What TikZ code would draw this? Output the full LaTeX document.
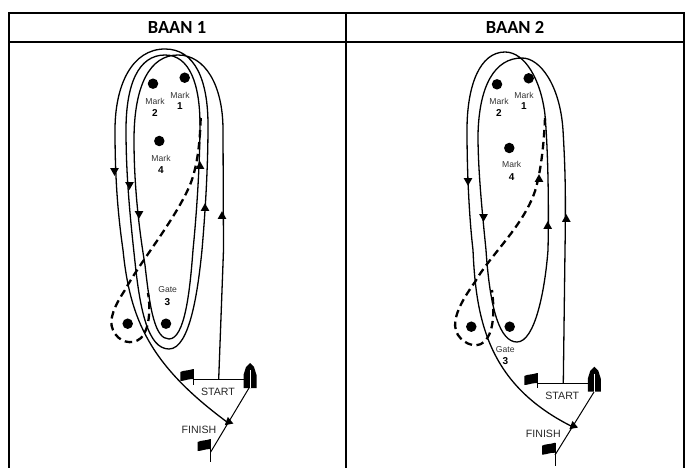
\documentclass[tikz,border=0pt]{standalone}
\usepackage{fontspec}
\setmainfont{Liberation Sans}
\newfontfamily\headfont{Carlito}
\begin{document}
\begin{tikzpicture}[x=1pt,y=-1pt,
  grid/.style={line width=1.5pt,black},
  course/.style={line width=1.3pt,black},
  dashcourse/.style={line width=2.3pt,black,dash pattern=on 7.5pt off 4.5pt},
  markdot/.style={circle,fill=black,inner sep=0pt,minimum size=10.5pt},
  marklab/.style={inner sep=0pt,font=\fontsize{8.6}{9}\selectfont,text=black!80},
  marknum/.style={inner sep=0pt,font=\fontsize{10}{10}\selectfont\bfseries},
  linelab/.style={inner sep=0pt,font=\fontsize{10.6}{11}\selectfont,text=black!85},
  headlab/.style={inner sep=0pt,font=\headfont\fontsize{18.5}{18}\selectfont\bfseries},
  thin line/.style={line width=1pt,black},
  uptip/.pic={\fill (-4.3,3.8) -- (0,-3.8) -- (4.3,3.8) -- cycle;},
  downtip/.pic={\fill (-4.3,-3.8) -- (0,3.8) -- (4.3,-3.8) -- cycle;},
  flag/.pic={\fill (-13,3) .. controls (-9,1) and (-6,2) .. (0,0) -- (0,10) .. controls (-6,10) and (-9,12) .. (-13,12) -- cycle;},
  boat/.pic={\fill (0,0) -- (-4,4) -- (-6.5,12) -- (-6.5,25) -- (6.5,25) -- (6.5,12) -- (4,4) -- cycle;
             \draw[white,line width=0.7pt] (0,7) -- (0,25);}
]
\useasboundingbox (0,0) rectangle (691,468);
% table
\draw[grid] (9,468) -- (9,13) -- (684,13) -- (684,468);
\draw[grid] (9,42) -- (684,42);
\draw[grid] (346,13) -- (346,468);
\node[headlab] (h1) at (177,27.5) {BAAN 1};
\node[headlab] (h2) at (515,27.5) {BAAN 2};

% ---------- BAAN 1 ----------
\node[markdot] (a1) at (184.7,77.7) {};
\node[markdot] (a2) at (153,83.7) {};
\node[markdot] (a4) at (159.3,141) {};
\node[markdot] (ag) at (166,323.7) {};
\node[markdot] (ap) at (127.7,323.7) {};
\node[marklab] (a1l) at (180,95) {Mark};
\node[marknum] (a1n) at (180,106) {1};
\node[marklab] (a2l) at (155,101) {Mark};
\node[marknum] (a2n) at (155,112.7) {2};
\node[marklab] (a4l) at (161,158) {Mark};
\node[marknum] (a4n) at (161,170) {4};
\node[marklab] (agl) at (167.7,290) {Gate};
\node[marknum] (agn) at (167.5,301.7) {3};
\draw[course] (218.7,379) -- (223.5,250) -- (223,130)
  .. controls (223,85) and (205,55) .. (178,55)
  .. controls (150,55) and (134,85) .. (134,140)
  .. controls (134,190) and (140,235) .. (145,265)
  .. controls (150,310) and (155,339) .. (169,339)
  .. controls (185,339) and (190,290) .. (193,250)
  .. controls (197,210) and (200,160) .. (200,125)
  .. controls (200,85) and (190,55) .. (165,55)
  .. controls (138,55) and (126,85) .. (126,130)
  .. controls (126,180) and (131,225) .. (135,262)
  .. controls (140,310) and (148,349) .. (169,349)
  .. controls (190,349) and (198,290) .. (202,250)
  .. controls (205,215) and (208,170) .. (208,125)
  .. controls (208,80) and (195,49) .. (165,49)
  .. controls (132,49) and (115,85) .. (115,130)
  .. controls (115,180) and (118,215) .. (123,250)
  .. controls (130,320) and (150,365) .. (227,422);
\draw[dashcourse] (200.7,118) .. controls (200,140) and (198,165) .. (190,185)
  .. controls (175,220) and (140,262) .. (125,290)
  .. controls (115,305) and (108,320) .. (113,330)
  .. controls (118,342) and (132,346) .. (141,338)
  .. controls (149,330) and (151,310) .. (148,293);
\pic at (114.5,172) {downtip};
\pic at (129.5,186) {downtip};
\pic at (139,215) {downtip};
\pic at (200,165) {uptip};
\pic at (205,207) {uptip};
\pic at (222,215) {uptip};
\pic[rotate=-50] at (227.7,422.7) {downtip};
% start / finish
\pic at (193.3,369) {flag};
\draw[thin line] (193.3,369) -- (193.3,385);
\pic at (250,363) {boat};
\coordinate (as) at (193.3,379.3);
\coordinate (ab) at (243.5,379.3);
\draw[thin line] (as) -- (ab);
\coordinate (ae) at (249,388);
\coordinate (af) at (210.7,452);
\draw[thin line] (ae) -- (af);
\pic at (210.7,439) {flag};
\draw[thin line] (210.7,439) -- (210.7,462);
\node[linelab] (ast) at (218,392) {START};
\node[linelab] (afi) at (199,430) {FINISH};

% ---------- BAAN 2 ----------
\node[markdot] (b1) at (528.7,78.3) {};
\node[markdot] (b2) at (497,84.3) {};
\node[markdot] (b4) at (509.3,148) {};
\node[markdot] (bg) at (509.7,326.7) {};
\node[markdot] (bp) at (471.3,326.7) {};
\node[marklab] (b1l) at (524,95) {Mark};
\node[marknum] (b1n) at (524,106.3) {1};
\node[marklab] (b2l) at (499,101.7) {Mark};
\node[marknum] (b2n) at (499,113.3) {2};
\node[marklab] (b4l) at (511.7,164.7) {Mark};
\node[marknum] (b4n) at (511.7,176.7) {4};
\node[marklab] (bgl) at (505.3,350) {Gate};
\node[marknum] (bgn) at (505.3,361.3) {3};
\draw[course] (563.3,383) -- (565,250)
  .. controls (566,190) and (565,165) .. (563,130)
  .. controls (560,85) and (540,58) .. (522,58)
  .. controls (495,58) and (479,85) .. (478,135)
  .. controls (478,170) and (482,210) .. (486,250)
  .. controls (490,310) and (500,342) .. (517,342)
  .. controls (535,342) and (545,290) .. (548,250)
  .. controls (549,205) and (548,150) .. (545,115)
  .. controls (541,80) and (525,52) .. (505,52)
  .. controls (480,52) and (467,85) .. (467,130)
  .. controls (467,180) and (470,225) .. (473,250)
  .. controls (476,320) and (488,385) .. (573,427);
\draw[dashcourse] (545,118) .. controls (544,140) and (542,165) .. (536,188)
  .. controls (525,225) and (490,255) .. (475,282)
  .. controls (462,300) and (452,318) .. (456,331)
  .. controls (460,342) and (475,350) .. (484,342)
  .. controls (493,334) and (495,315) .. (492,290);
\pic at (468,182) {downtip};
\pic at (483.5,218) {downtip};
\pic at (539,178) {uptip};
\pic at (547.7,225) {uptip};
\pic at (566.3,218) {uptip};
\pic[rotate=-50] at (572.3,426.7) {downtip};
\pic at (537.3,373) {flag};
\draw[thin line] (537.3,373) -- (537.3,388);
\pic at (594.3,366.7) {boat};
\coordinate (bs) at (537.3,383);
\coordinate (bb) at (588,383);
\draw[thin line] (bs) -- (bb);
\coordinate (be) at (594,392);
\coordinate (bf) at (555,455);
\draw[thin line] (be) -- (bf);
\pic at (555,442.7) {flag};
\draw[thin line] (555,442.7) -- (555,466);
\node[linelab] (bst) at (562.3,396) {START};
\node[linelab] (bfi) at (543.3,434.3) {FINISH};
\end{tikzpicture}
\end{document}
